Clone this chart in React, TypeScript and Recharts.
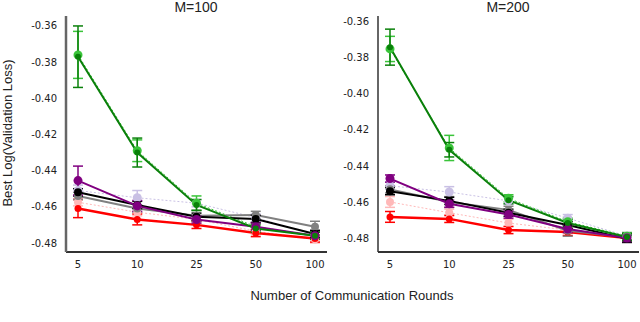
import React from 'react';
import { LineChart, Line, XAxis, YAxis, ErrorBar } from 'recharts';

const rounds = ['5', '10', '25', '50', '100'];
const yTicks = [-0.48, -0.46, -0.44, -0.42, -0.4, -0.38, -0.36];

// M=100
const greenM100 = [-0.377, -0.43, -0.459, -0.472, -0.476];
const greenErrM100 = [0.017, 0.008, 0.003, 0.002, 0.002];
const lightGreenM100 = [-0.376, -0.429, -0.458, -0.471, -0.476];
const lightGreenErrM100 = [0.013, 0.006, 0.004, 0.002, 0.002];
const purpleM100 = [-0.4455, -0.4595, -0.467, -0.471, -0.476];
const purpleErrM100 = [0.008, 0.003, 0.002, 0.002, 0.002];
const lavenderM100 = [-0.451, -0.455, -0.458, -0.466, -0.4755];
const lavenderErrM100 = [0.003, 0.004, 0.002, 0.002, 0.002];
const blackM100 = [-0.452, -0.459, -0.4655, -0.4667, -0.475];
const blackErrM100 = [0.002, 0.002, 0.002, 0.002, 0.002];
const grayM100 = [-0.454, -0.461, -0.465, -0.4645, -0.471];
const grayErrM100 = [0.002, 0.002, 0.003, 0.002, 0.003];
const redM100 = [-0.461, -0.467, -0.47, -0.4745, -0.4775];
const redErrM100 = [0.005, 0.003, 0.002, 0.002, 0.002];
const pinkM100 = [-0.4575, -0.463, -0.467, -0.4735, -0.478];
const pinkErrM100 = [0.002, 0.002, 0.002, 0.002, 0.002];

// M=200
const greenM200 = [-0.374, -0.431, -0.459, -0.4717, -0.4795];
const greenErrM200 = [0.01, 0.004, 0.002, 0.002, 0.002];
const lightGreenM200 = [-0.375, -0.43, -0.458, -0.471, -0.479];
const lightGreenErrM200 = [0.007, 0.007, 0.002, 0.002, 0.002];
const purpleM200 = [-0.447, -0.461, -0.467, -0.475, -0.48];
const purpleErrM200 = [0.002, 0.002, 0.002, 0.002, 0.002];
const lavenderM200 = [-0.451, -0.4545, -0.4594, -0.469, -0.479];
const lavenderErrM200 = [0.002, 0.003, 0.002, 0.002, 0.002];
const blackM200 = [-0.454, -0.4594, -0.466, -0.4728, -0.4805];
const blackErrM200 = [0.002, 0.002, 0.002, 0.002, 0.002];
const grayM200 = [-0.453, -0.46, -0.4644, -0.476, -0.4795];
const grayErrM200 = [0.002, 0.003, 0.002, 0.003, 0.002];
const redM200 = [-0.4683, -0.4694, -0.4756, -0.4767, -0.48];
const redErrM200 = [0.003, 0.002, 0.002, 0.002, 0.002];
const pinkM200 = [-0.46, -0.466, -0.4717, -0.4756, -0.48];
const pinkErrM200 = [0.003, 0.002, 0.002, 0.002, 0.002];

const buildRows = (s: Record<string, number[]>) =>
  rounds.map((r, i) => {
    const row: any = { round: r };
    Object.keys(s).forEach((k) => (row[k] = s[k][i]));
    return row;
  });

const dataM100 = buildRows({
  green: greenM100, greenErr: greenErrM100,
  lightGreen: lightGreenM100, lightGreenErr: lightGreenErrM100,
  purple: purpleM100, purpleErr: purpleErrM100,
  lavender: lavenderM100, lavenderErr: lavenderErrM100,
  black: blackM100, blackErr: blackErrM100,
  gray: grayM100, grayErr: grayErrM100,
  red: redM100, redErr: redErrM100,
  pink: pinkM100, pinkErr: pinkErrM100,
});

const dataM200 = buildRows({
  green: greenM200, greenErr: greenErrM200,
  lightGreen: lightGreenM200, lightGreenErr: lightGreenErrM200,
  purple: purpleM200, purpleErr: purpleErrM200,
  lavender: lavenderM200, lavenderErr: lavenderErrM200,
  black: blackM200, blackErr: blackErrM200,
  gray: grayM200, grayErr: grayErrM200,
  red: redM200, redErr: redErrM200,
  pink: pinkM200, pinkErr: pinkErrM200,
});

// drawing order: faint dotted ones at the back
const seriesStyles = [
  { key: 'pink', color: '#ffb8b8', width: 1, dash: '2 2', r: 4 },
  { key: 'lavender', color: '#c9c0e4', width: 1, dash: '2 2', r: 4.5 },
  { key: 'lightGreen', color: '#3ac43a', width: 1, dash: '2 2', r: 4.5 },
  { key: 'red', color: '#ff0000', width: 2.5, dash: undefined, r: 3.5 },
  { key: 'gray', color: '#808080', width: 2, dash: undefined, r: 4 },
  { key: 'black', color: '#000000', width: 2, dash: undefined, r: 4 },
  { key: 'purple', color: '#800080', width: 2, dash: undefined, r: 4.5 },
  { key: 'green', color: '#0a800a', width: 2, dash: undefined, r: 3 },
];

const tickStyle = { fontFamily: 'DejaVu Sans', fontSize: 10, fill: '#222' };

function Panel({ data, domain, yWidth, axisColor, axisWidth, width }: any) {
  return (
    <LineChart
      width={width}
      height={322}
      data={data}
      margin={{ top: 16, right: 1, bottom: 40, left: 0 }}
    >
      <XAxis
        dataKey="round"
        height={30}
        padding={{ left: 12, right: 12 }}
        tickLine={false}
        tick={tickStyle}
        axisLine={{ stroke: '#333', strokeWidth: 2 }}
        tickMargin={3}
      />
      <YAxis
        type="number"
        width={yWidth}
        domain={domain}
        ticks={yTicks}
        allowDataOverflow
        tickLine={false}
        tickSize={6}
        tickMargin={3}
        tick={tickStyle}
        tickFormatter={(v: number) => v.toFixed(2)}
        axisLine={{ stroke: axisColor, strokeWidth: axisWidth }}
      />
      {seriesStyles.map((s) => (
        <Line
          key={s.key}
          type="linear"
          dataKey={s.key}
          stroke={s.color}
          strokeWidth={s.width}
          strokeDasharray={s.dash}
          dot={{ r: s.r, fill: s.color, stroke: 'none', strokeDasharray: '' }}
          activeDot={false}
          isAnimationActive={false}
        >
          <ErrorBar
            dataKey={s.key + 'Err'}
            width={5}
            stroke={s.color}
            strokeWidth={1.5}
            isAnimationActive={false}
          />
        </Line>
      ))}
    </LineChart>
  );
}

export default function App() {
  const label = { position: 'absolute' as const, fontFamily: 'Liberation Sans, Arial, sans-serif', color: '#222', whiteSpace: 'nowrap' as const };
  return (
    <div style={{ position: 'absolute', left: 0, top: 0, width: 640, height: 322, background: '#fff', overflow: 'hidden' }}>
      <div style={{ position: 'absolute', left: 0, top: 0 }}>
        <Panel data={dataM100} domain={[-0.485, -0.3545]} yWidth={66} axisColor="#666" axisWidth={2.5} width={328} />
      </div>
      <div style={{ position: 'absolute', left: 320, top: 0 }}>
        <Panel data={dataM200} domain={[-0.4878, -0.3567]} yWidth={58} axisColor="#333" axisWidth={1.5} width={320} />
      </div>
      <div style={{ ...label, fontSize: 14, left: 196, top: -1, transform: 'translateX(-50%)' }}>M=100</div>
      <div style={{ ...label, fontSize: 14, left: 508, top: -1, transform: 'translateX(-50%)' }}>M=200</div>
      <div style={{ ...label, fontSize: 13, left: 352, top: 288, transform: 'translateX(-50%)' }}>
        Number of Communication Rounds
      </div>
      <div
        style={{
          ...label,
          fontSize: 13,
          left: 7,
          top: 133,
          transform: 'translate(-50%, -50%) rotate(-90deg)',
        }}
      >
        Best Log(Validation Loss)
      </div>
    </div>
  );
}
